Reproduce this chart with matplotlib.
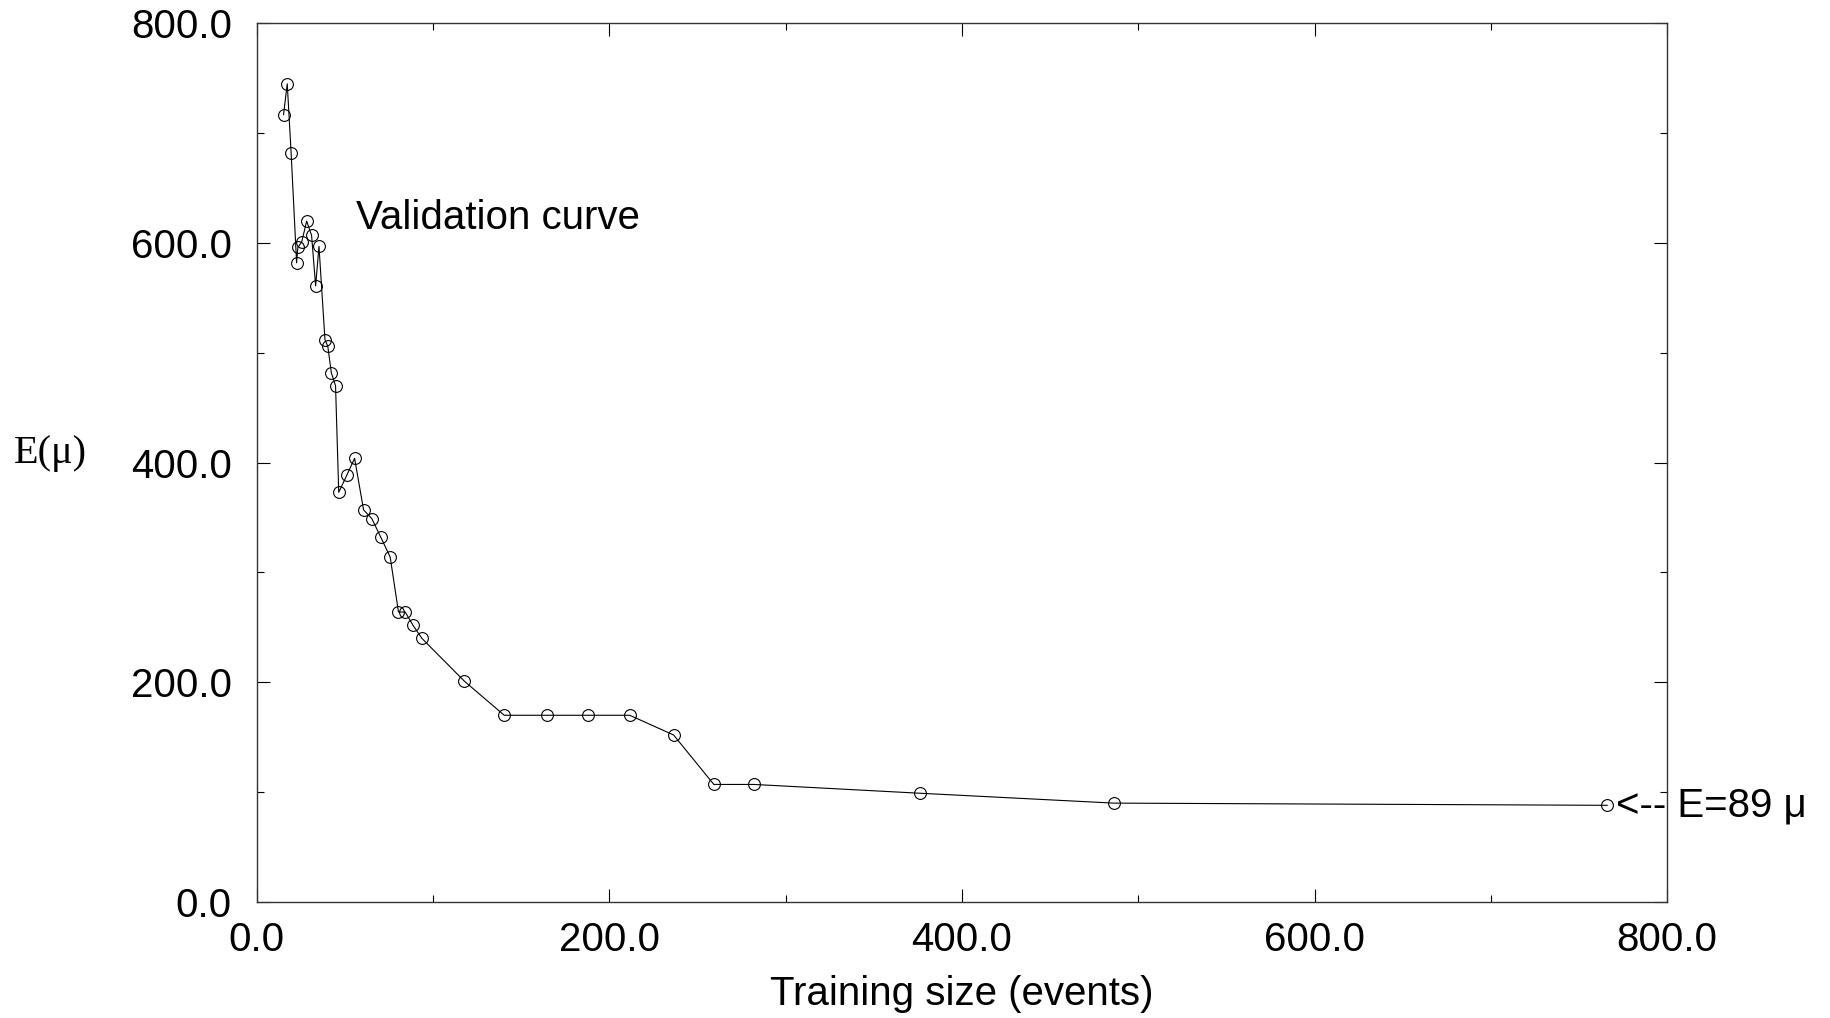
import matplotlib
matplotlib.use("Agg")
import matplotlib.pyplot as plt
from matplotlib.ticker import MultipleLocator, FormatStrFormatter

# training size (events) vs validation error E(mu)
train_size = [15.1, 17.2, 19.4, 22.5, 23.2, 25.4, 28.2, 31.0, 33.3, 35.2,
               38.6, 40.2, 42.2, 44.6, 46.4, 51.1, 55.4, 60.5, 65.2, 70.3,
               75.6, 80.3, 84.1, 88.5, 93.6, 117.7, 140.3, 164.4, 187.6, 211.5,
               236.4, 259.2, 282.0, 376.0, 486.0, 766.0]
error = [717, 745, 682, 582, 596, 601, 620, 607, 561, 597,
         512, 506, 482, 470, 373, 389, 404, 357, 349, 332,
         314, 264, 264, 252, 240, 201, 170, 170, 170, 170,
         152, 107, 107, 99, 90, 88]

x_ticks = [0, 200, 400, 600, 800]
y_ticks = [0, 200, 400, 600, 800]
final_label = "<-- E=89 \u03bc"

plt.rcParams["font.family"] = ["Liberation Sans", "DejaVu Sans"]

fig = plt.figure(figsize=(18.3, 10.18), dpi=100)
ax = fig.add_axes([0.1404, 0.114, 0.7706, 0.863])

ax.plot(train_size, error, color="black", linewidth=0.8,
        marker="o", markersize=8.5, markerfacecolor="none",
        markeredgecolor="black", markeredgewidth=0.8, clip_on=False)

ax.set_xlim(0, 800)
ax.set_ylim(0, 800)
ax.set_xticks(x_ticks)
ax.set_yticks(y_ticks)
ax.xaxis.set_minor_locator(MultipleLocator(100))
ax.yaxis.set_minor_locator(MultipleLocator(100))
ax.xaxis.set_major_formatter(FormatStrFormatter("%.1f"))
ax.yaxis.set_major_formatter(FormatStrFormatter("%.1f"))

ax.tick_params(which="both", direction="in", top=True, right=True,
               width=0.8, labelsize=29, colors="black")
ax.tick_params(which="major", length=9.5)
ax.tick_params(which="minor", length=5)
ax.tick_params(axis="x", which="major", pad=14)
ax.tick_params(axis="y", which="major", pad=18)

for s in ax.spines.values():
    s.set_linewidth(1.0)
    s.set_color("#333333")

ax.set_xlabel("Training size (events)", fontsize=29, labelpad=11)

fig.text(14 / 1830, 1 - 453 / 1018, "E(\u03bc)", fontsize=29,
         family=["Liberation Serif", "DejaVu Serif"], ha="left", va="center")

ax.text(56, 623, "Validation curve", fontsize=29, ha="left", va="center")

ax.annotate(final_label, xy=(train_size[-1], error[-1]), xytext=(6, 0),
            textcoords="offset points", fontsize=29, ha="left", va="center",
            annotation_clip=False)

fig.savefig("out.png", dpi=100)
